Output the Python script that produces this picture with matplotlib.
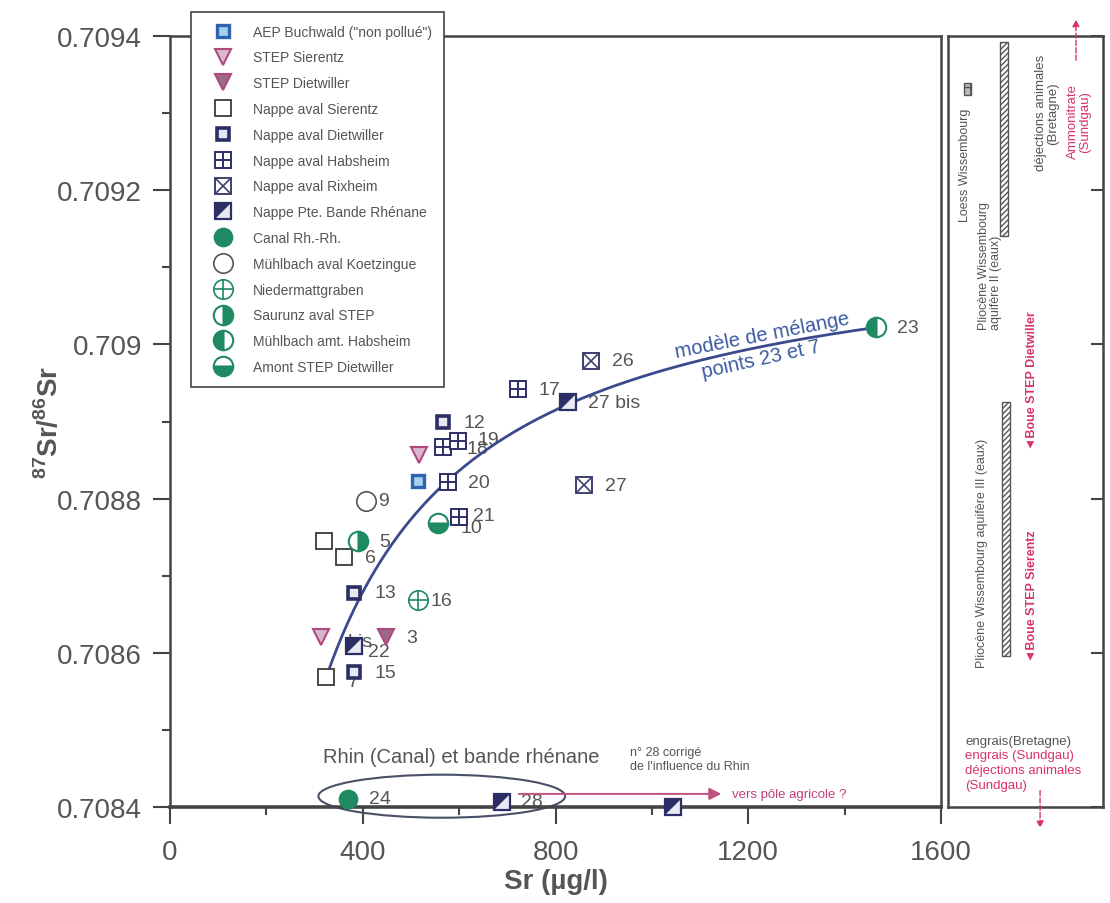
import matplotlib
matplotlib.use('Agg')
import matplotlib.pyplot as plt
import numpy as np
from matplotlib.lines import Line2D
from matplotlib.patches import Ellipse, Rectangle
from matplotlib.legend_handler import HandlerTuple

plt.rcParams['font.family'] = ['Liberation Sans', 'DejaVu Sans']
plt.rcParams['mathtext.fontset'] = 'custom'
plt.rcParams['mathtext.rm'] = 'Liberation Sans'
plt.rcParams['mathtext.bf'] = 'Liberation Sans:bold'

# --- data (Sr in ug/l, 87Sr/86Sr) ---
aep_x = [514]
aep_y = [0.708823]
aep_lab = ['']

step_sie_x = [313, 517]
step_sie_y = [0.708620, 0.708856]
step_sie_lab = ['bis', '']

step_die_x = [448]
step_die_y = [0.708620]
step_die_lab = ['3']

sie_x = [320, 362, 324]
sie_y = [0.708745, 0.708724, 0.708568]
sie_lab = ['', '6', '7']

die_x = [566, 382, 382]
die_y = [0.708899, 0.708678, 0.708575]
die_lab = ['12', '13', '15']

hab_x = [566, 597, 576, 600, 722]
hab_y = [0.708867, 0.708875, 0.708821, 0.708776, 0.708942]
hab_lab = ['18', '19', '20', '21', '17']

rix_x = [874, 860]
rix_y = [0.708979, 0.708817]
rix_lab = ['26', '27']

pbr_x = [825, 382, 690, 1043]
pbr_y = [0.708925, 0.708609, 0.708407, 0.708400]
pbr_lab = ['27 bis', '22', '28', '']

canal_x = [369]
canal_y = [0.708411]
canal_lab = ['24']

koe_x = [407]
koe_y = [0.708797]
koe_lab = ['9']

nied_x = [514]
nied_y = [0.708668]
nied_lab = ['16']

sau_x = [390]
sau_y = [0.708745]
sau_lab = ['5']

mam_x = [1465]
mam_y = [0.709022]
mam_lab = ['23']

ams_x = [557]
ams_y = [0.708768]
ams_lab = ['10']

yticks = [0.7084, 0.7086, 0.7088, 0.709, 0.7092, 0.7094]
ytick_labels = ['0.7084', '0.7086', '0.7088', '0.709', '0.7092', '0.7094']
xticks = [0, 400, 800, 1200, 1600]

# label offsets in points (default is to the right)
label_off = {'9': (9, 0), '16': (9, 0), '22': (10, -4), '7': (16, -3),
             '21': (10, 1), '10': (16, -3), 'bis': (19, -3), '28': (13, 0),
             '18': (17, -1), '19': (14, 1)}

NAVY = '#2b2f66'
BLUE = '#2e63b0'
MAG = '#b04a7a'
GREEN = '#1f8a62'
GRAY = '#555555'
RED = '#d8336a'

tri = [(-1, -1), (-1, 1), (1, 1)]
styles = {
    'AEP Buchwald ("non pollué")': [dict(marker='s', ms=9, mfc='#a6d0ee', mec=BLUE, mew=2.4)],
    'STEP Sierentz': [dict(marker='v', ms=11, mfc='#d9b6cf', mec=MAG, mew=1.5)],
    'STEP Dietwiller': [dict(marker='v', ms=11, mfc='#9a6a8c', mec=MAG, mew=1.5)],
    'Nappe aval Sierentz': [dict(marker='s', ms=11, mfc='white', mec='#3a3a3a', mew=1.3)],
    'Nappe aval Dietwiller': [dict(marker='s', ms=9, mfc='#e6e8f2', mec=NAVY, mew=2.6)],
    'Nappe aval Habsheim': [dict(marker='s', ms=11, mfc='white', mec=NAVY, mew=1.4),
                            dict(marker='+', ms=11, mec=NAVY, mew=1.4)],
    'Nappe aval Rixheim': [dict(marker='s', ms=11, mfc='white', mec='#3d4070', mew=1.4),
                           dict(marker='x', ms=11, mec='#3d4070', mew=1.2)],
    'Nappe Pte. Bande Rhénane': [dict(marker='s', ms=11, mfc='#e8eaf2', mec=NAVY, mew=1.6),
                                 dict(marker=tri, ms=11, mfc=NAVY, mec=NAVY, mew=0)],
    'Canal Rh.-Rh.': [dict(marker='o', ms=13, mfc=GREEN, mec=GREEN, mew=1.2)],
    'Mühlbach aval Koetzingue': [dict(marker='o', ms=14, mfc='white', mec=GRAY, mew=1.2)],
    'Niedermattgraben': [dict(marker='o', ms=14, mfc='white', mec=GREEN, mew=1.2),
                         dict(marker='+', ms=14, mec=GREEN, mew=1.2)],
    'Saurunz aval STEP': [dict(marker='o', ms=14, fillstyle='right', mfc=GREEN,
                               mfcalt='white', mec=GREEN, mew=1.5)],
    'Mühlbach amt. Habsheim': [dict(marker='o', ms=14, fillstyle='left', mfc=GREEN,
                                    mfcalt='white', mec=GREEN, mew=1.5)],
    'Amont STEP Dietwiller': [dict(marker='o', ms=14, fillstyle='bottom', mfc=GREEN,
                                   mfcalt='white', mec=GREEN, mew=1.5)],
}

groups = [
    ('AEP Buchwald ("non pollué")', aep_x, aep_y, aep_lab),
    ('STEP Sierentz', step_sie_x, step_sie_y, step_sie_lab),
    ('STEP Dietwiller', step_die_x, step_die_y, step_die_lab),
    ('Nappe aval Sierentz', sie_x, sie_y, sie_lab),
    ('Nappe aval Dietwiller', die_x, die_y, die_lab),
    ('Nappe aval Habsheim', hab_x, hab_y, hab_lab),
    ('Nappe aval Rixheim', rix_x, rix_y, rix_lab),
    ('Nappe Pte. Bande Rhénane', pbr_x, pbr_y, pbr_lab),
    ('Canal Rh.-Rh.', canal_x, canal_y, canal_lab),
    ('Mühlbach aval Koetzingue', koe_x, koe_y, koe_lab),
    ('Niedermattgraben', nied_x, nied_y, nied_lab),
    ('Saurunz aval STEP', sau_x, sau_y, sau_lab),
    ('Mühlbach amt. Habsheim', mam_x, mam_y, mam_lab),
    ('Amont STEP Dietwiller', ams_x, ams_y, ams_lab),
]

fig = plt.figure(figsize=(11.1, 9.04), dpi=100)
ax = fig.add_axes([170 / 1110, 96 / 904, 771 / 1110, 771 / 904])
ax2 = fig.add_axes([948 / 1110, 96 / 904, 155 / 1110, 771 / 904])

# mixing model between points 7 and 23
c1, r1 = mam_x[0], mam_y[0]
c2, r2 = sie_x[2], sie_y[2]
cc = np.linspace(c2, c1, 200)
f = (cc - c2) / (c1 - c2)
rr = (f * c1 * r1 + (1 - f) * c2 * r2) / cc
ax.plot(cc, rr, color='#3b4a8c', lw=2, zorder=2.5)

handles = []
names = []
for name, xs, ys, labs in groups:
    hs = []
    for st in styles[name]:
        ax.plot(xs, ys, ls='none', zorder=3, clip_on=False, **st)
        hs.append(Line2D([], [], ls='none', **st))
    handles.append(tuple(hs))
    names.append(name)
    for x, y, lab in zip(xs, ys, labs):
        if lab:
            ax.annotate(lab, (x, y), xytext=label_off.get(lab, (15, 0)),
                        textcoords='offset points', ha='left', va='center',
                        fontsize=14, color=GRAY, zorder=2)

# Rhine group
ax.add_patch(Ellipse((564, 0.708414), 512, 0.0000558, fill=False,
                     ec='#4a5068', lw=1.5, zorder=2, clip_on=False))
ax.text(317, 0.708466, 'Rhin (Canal) et bande rhénane', fontsize=14.5,
        color=GRAY, ha='left', va='center')
ax.text(955, 0.708462, "n° 28 corrigé\nde l'influence du Rhin", fontsize=9,
        color=GRAY, ha='left', va='center', linespacing=1.2)
ax.annotate('', xy=(1150, 0.708417), xytext=(718, 0.708417),
            arrowprops=dict(arrowstyle='-|>', color='#c05080', lw=1.4,
                            mutation_scale=18), zorder=4)
ax.text(1166, 0.708417, 'vers pôle agricole ?', fontsize=9.5, color='#c0407a',
        ha='left', va='center')

ax.text(1230, 0.709012, 'modèle de mélange', fontsize=14.5, color='#3c5aa0',
        rotation=11, ha='center', va='center', rotation_mode='anchor')
ax.text(1226, 0.708982, 'points 23 et 7', fontsize=14.5, color='#3c5aa0',
        rotation=12.5, ha='center', va='center', rotation_mode='anchor')

ax.set_xlim(0, 1600)
ax.set_ylim(0.7084, 0.7094)
ax.set_xticks(xticks)
ax.set_xticks([200, 600, 1000, 1400], minor=True)
ax.set_yticks(yticks)
ax.set_yticklabels(ytick_labels)
ax.set_yticks(np.arange(0.7085, 0.7094, 0.0002), minor=True)
ax.tick_params(which='major', direction='out', length=12, width=1.5,
               color='#444444', labelsize=20, labelcolor=GRAY)
ax.tick_params(axis='x', which='major', pad=11)
ax.tick_params(axis='y', which='major', pad=8)
ax.tick_params(which='minor', direction='out', length=6, width=1.5, color='#444444')
for s in ax.spines.values():
    s.set_color('#444444')
    s.set_linewidth(1.8)
ax.spines['bottom'].set_linewidth(2.6)

ax.set_xlabel('Sr (µg/l)', fontsize=20, fontweight='bold', color=GRAY, labelpad=2)
ax.set_ylabel(r'$^{\mathbf{87}}$Sr/$^{\mathbf{86}}$Sr', fontsize=20,
              fontweight='bold', color=GRAY)
ax.yaxis.set_label_coords(-0.137, 0.5)

leg = ax.legend(handles, names, handler_map={tuple: HandlerTuple(ndivide=1)},
                loc='upper left', bbox_to_anchor=(0.027, 1.031), fontsize=10,
                labelcolor=GRAY, frameon=True, fancybox=False, framealpha=1,
                edgecolor='#444444', labelspacing=0.85, borderpad=0.9,
                handlelength=2.8, handletextpad=0.75, borderaxespad=0,
                numpoints=1)
leg.get_frame().set_linewidth(1.2)
leg.set_zorder(5)

# right panel: reference values of other sources
ax2.set_xlim(0, 1)
ax2.set_ylim(0.7084, 0.7094)
ax2.set_xticks([])
ax2.yaxis.tick_right()
ax2.set_yticks(yticks)
ax2.tick_params(axis='y', direction='in', length=9, width=1.5, color='#444444',
                labelright=False)
for s in ax2.spines.values():
    s.set_color('#444444')
    s.set_linewidth(1.8)
T = ax2.get_yaxis_transform()

ax2.text(0.11, 0.709160, 'Loess Wissembourg', transform=T, rotation=90,
         ha='center', va='bottom', fontsize=9, color=GRAY)
ax2.add_patch(Rectangle((0.10, 0.709323), 0.05, 0.0000156, transform=T,
                        fc='#bbbbbb', ec='#555555', lw=1, hatch='++'))
ax2.text(0.27, 0.709020, 'Pliocène Wissembourg\naquifère II (eaux)', transform=T,
         rotation=90, ha='center', va='bottom', multialignment='left',
         fontsize=9, color=GRAY, linespacing=1.0)
ax2.add_patch(Rectangle((0.335, 0.709141), 0.05, 0.000251, transform=T,
                        fc='white', ec='#555555', lw=1, hatch='//////'))
ax2.text(0.22, 0.708582, 'Pliocène Wissembourg aquifère III (eaux)', transform=T,
         rotation=90, ha='center', va='bottom', fontsize=9, color=GRAY)
ax2.add_patch(Rectangle((0.35, 0.708596), 0.05, 0.000329, transform=T,
                        fc='white', ec='#555555', lw=1, hatch='//////'))
ax2.text(0.64, 0.709301, 'déjections animales\n(Bretagne)', transform=T,
         rotation=90, ha='center', va='center', multialignment='center',
         fontsize=9.5, color=GRAY, linespacing=1.0)
ax2.text(0.845, 0.709290, 'Ammonitrate\n(Sundgau)', transform=T,
         rotation=90, ha='center', va='center', multialignment='center',
         fontsize=9.5, color=RED, linespacing=1.0)
ax2.annotate('', xy=(0.826, 0.709425), xytext=(0.826, 0.709365), xycoords=T,
             arrowprops=dict(arrowstyle='-|>', color=RED, lw=1, ls='--',
                             mutation_scale=10), annotation_clip=False)
ax2.text(0.542, 0.708864, '◄Boue STEP Dietwiller', transform=T, rotation=90,
         ha='center', va='bottom', fontsize=9, fontweight='bold', color=RED)
ax2.text(0.542, 0.708589, '◄Boue STEP Sierentz', transform=T, rotation=90,
         ha='center', va='bottom', fontsize=9, fontweight='bold', color=RED)

bottom_lines = ['engrais(Bretagne)', 'engrais (Sundgau)', 'déjections animales', '(Sundgau)']
bottom_cols = [GRAY, RED, RED, RED]
bottom_y = [0.708486, 0.708467, 0.708448, 0.708429]
for t, c, yy in zip(bottom_lines, bottom_cols, bottom_y):
    ax2.text(0.11, yy, t, transform=T, ha='left', va='center', fontsize=9.5, color=c)
ax2.annotate('', xy=(0.594, 0.708369), xytext=(0.594, 0.708425), xycoords=T,
             arrowprops=dict(arrowstyle='-|>', color=RED, lw=1, ls='--',
                             mutation_scale=10), annotation_clip=False)

fig.savefig('out.png', dpi=100)
